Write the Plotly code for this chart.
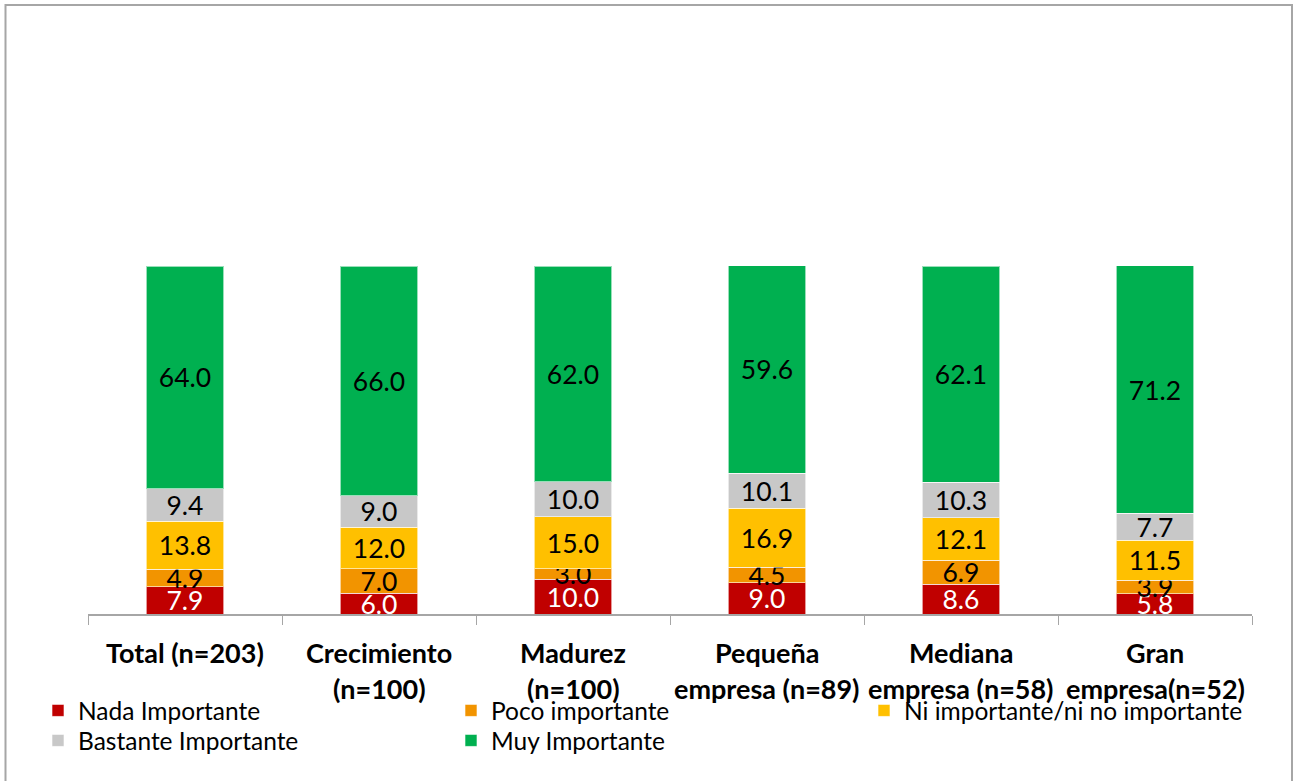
import plotly.graph_objects as go

categories = ["Total", "Crecimiento", "Madurez", "Pequeña", "Mediana", "Gran"]
label_line1 = ["Total (n=203)", "Crecimiento", "Madurez", "Pequeña", "Mediana", "Gran"]
label_line2 = ["", "(n=100)", "(n=100)", "empresa (n=89)", "empresa (n=58)", "empresa(n=52)"]

series_names = ["Nada Importante", "Poco importante", "Ni importante/ni no importante",
                "Bastante Importante", "Muy Importante"]
nada = [7.9, 6.0, 10.0, 9.0, 8.6, 5.8]
poco = [4.9, 7.0, 3.0, 4.5, 6.9, 3.9]
ni = [13.8, 12.0, 15.0, 16.9, 12.1, 11.5]
bastante = [9.4, 9.0, 10.0, 10.1, 10.3, 7.7]
muy = [64.0, 66.0, 62.0, 59.6, 62.1, 71.2]

series_values = [nada, poco, ni, bastante, muy]
colors = ["#C00000", "#F29400", "#FFC000", "#C8C8C8", "#00B050"]
text_colors = ["white", "black", "black", "black", "black"]
legend_rows = ["legend", "legend", "legend", "legend2", "legend2"]

FONT = "Lato"
W, H = 1295, 781
L, R, T, B = 88, 43, 266, 167
PH = H - T - B
PW = W - L - R


def py(pixel_y):
    return (H - B - pixel_y) / PH


def px(pixel_x):
    return (pixel_x - L) / PW


fig = go.Figure()
for name, vals, col, tcol, lg in zip(series_names, series_values, colors, text_colors, legend_rows):
    fig.add_trace(go.Bar(
        x=categories, y=vals, name=name, legend=lg,
        marker=dict(color=col, line=dict(color="rgba(255,255,255,0.6)", width=1)),
        text=[f"{v:.1f}" for v in vals],
        textposition="inside", insidetextanchor="middle",
        constraintext="none", textangle=0,
        textfont=dict(family=FONT, size=26.5, color=tcol),
        cliponaxis=True,
        hoverinfo="skip",
    ))

annotations = []
for c, l1, l2 in zip(categories, label_line1, label_line2):
    annotations.append(dict(x=c, xref="x", y=py(652), yref="paper", text=f"<b>{l1}</b>",
                            showarrow=False, yanchor="middle",
                            font=dict(family=FONT, size=27, color="black")))
    if l2:
        annotations.append(dict(x=c, xref="x", y=py(688), yref="paper", text=f"<b>{l2}</b>",
                                showarrow=False, yanchor="middle",
                                font=dict(family=FONT, size=27, color="black")))

legend_style = dict(orientation="h", xanchor="left", yanchor="top",
                    entrywidth=368, entrywidthmode="pixels", itemwidth=30,
                    font=dict(family=FONT, size=24.5, color="black"),
                    traceorder="normal", tracegroupgap=0, bgcolor="rgba(0,0,0,0)")

fig.update_layout(
    width=W, height=H,
    margin=dict(l=L, r=R, t=T, b=B),
    barmode="stack", bargap=0.6,
    plot_bgcolor="white", paper_bgcolor="white",
    xaxis=dict(showline=True, linecolor="#A6A6A6", linewidth=1.5,
               ticks="outside", tickson="boundaries", ticklen=9, tickcolor="#A6A6A6",
               showticklabels=False, showgrid=False, zeroline=False),
    yaxis=dict(range=[0, 100], visible=False, showgrid=False),
    showlegend=True,
    legend=dict(x=px(38), y=py(688), **legend_style),
    legend2=dict(x=px(38), y=py(718), **legend_style),
    annotations=annotations,
    shapes=[dict(type="rect", xref="paper", yref="paper",
                 x0=px(5.5), x1=px(1292),
                 y0=py(800), y1=py(5),
                 line=dict(color="#A6A6A6", width=2), layer="below")],
)

fig.write_html("out.html")
